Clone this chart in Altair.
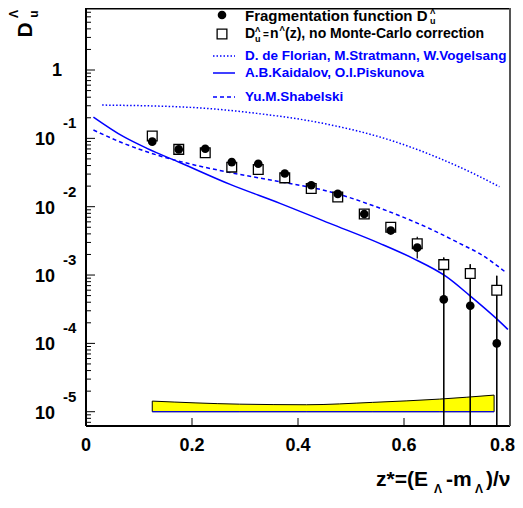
import altair as alt
import pandas as pd

# ---------------- data ----------------
z_pts = [0.125, 0.175, 0.225, 0.275, 0.325, 0.375, 0.425, 0.475, 0.525, 0.575, 0.625, 0.675, 0.725, 0.775]
ff = [0.0894, 0.0689, 0.0705, 0.0449, 0.0425, 0.0306, 0.0206, 0.0154, 0.00781, 0.00448, 0.00252, 4.4e-4, 3.55e-4, 1.0e-4]
ff_lo = [0.081, 0.064, 0.065, 0.041, 0.038, 0.028, 0.019, 0.0141, 0.0071, 0.0039, 0.00175, 1e-7, 1e-7, 1e-7]
ff_hi = [0.097, 0.074, 0.076, 0.049, 0.047, 0.034, 0.0225, 0.0168, 0.0086, 0.0052, 0.00363, 1.8e-3, 1.44e-3, 9.8e-4]
nz = [0.108, 0.069, 0.0616, 0.0379, 0.035, 0.0264, 0.0184, 0.0139, 0.0078, 0.0050, 0.00286, 0.00142, 0.00105, 6.0e-4]
nz_lo = [0.100, 0.064, 0.057, 0.035, 0.032, 0.0245, 0.0171, 0.0129, 0.0072, 0.0046, 0.0024, 1e-7, 1e-7, 1e-7]
nz_hi = [0.117, 0.074, 0.066, 0.041, 0.038, 0.0284, 0.0197, 0.0149, 0.0084, 0.0055, 0.0034, 1.8e-3, 1.44e-3, 9.8e-4]

dfsv_z = [0.0305, 0.197, 0.322, 0.447, 0.573, 0.667, 0.73, 0.78]
dfsv_y = [0.307, 0.284, 0.232, 0.166, 0.0946, 0.051, 0.0308, 0.0196]

kp_z = [0.014, 0.071, 0.115, 0.178, 0.272, 0.366, 0.46, 0.554, 0.616, 0.68, 0.723, 0.774, 0.796]
kp_y = [0.205, 0.1057, 0.0714, 0.0440, 0.0212, 0.0112, 0.0057, 0.00291, 0.00177, 9.46e-4, 5.09e-4, 2.32e-4, 1.60e-4]

sh_z = [0.014, 0.071, 0.134, 0.197, 0.272, 0.366, 0.46, 0.554, 0.648, 0.711, 0.742, 0.792]
sh_y = [0.1324, 0.0845, 0.0570, 0.0421, 0.0316, 0.0232, 0.01656, 0.00955, 0.00479, 0.00275, 0.002075, 0.001096]

band_z = [0.125, 0.29, 0.416, 0.541, 0.667, 0.770]
band_top = [1.43e-5, 1.29e-5, 1.265e-5, 1.37e-5, 1.53e-5, 1.75e-5]
band_bottom = [1e-5, 1e-5, 1e-5, 1e-5, 1e-5, 1e-5]

x_ticks = [0.2, 0.4, 0.6]
x_labels = [0, 0.2, 0.4, 0.6]
x_last_label = [0.8]
y_major = [1e-5, 1e-4, 1e-3, 1e-2, 1e-1, 1.0]
y_exp = ["-5", "-4", "-3", "-2", "-1"]

# ---------------- layout ----------------
W, H = 424, 418
YLO, YHI = 6.18e-6, 8.08
FONT = "Liberation Sans"
BLUE = "#0000ff"

xs = alt.Scale(domain=[0, 0.8], nice=False, zero=False)
ys = alt.Scale(type="log", domain=[YLO, YHI], nice=False)
X = lambda f: alt.X(f, type="quantitative", scale=xs, axis=None)
Y = lambda f: alt.Y(f, type="quantitative", scale=ys, axis=None)

pts = pd.DataFrame({"z": z_pts, "ff": ff, "ff_lo": ff_lo, "ff_hi": ff_hi,
                    "nz": nz, "nz_lo": nz_lo, "nz_hi": nz_hi})
dfsv = pd.DataFrame({"z": dfsv_z, "y": dfsv_y})
kp = pd.DataFrame({"z": kp_z, "y": kp_y})
sh = pd.DataFrame({"z": sh_z, "y": sh_y})
band = pd.DataFrame({"z": band_z, "top": band_top, "bot": band_bottom})

minor = [k * 10.0 ** n for n in range(-6, 1) for k in range(2, 10) if YLO <= k * 10.0 ** n <= YHI]
ymaj_df = pd.DataFrame({"v": y_major})
ymin_df = pd.DataFrame({"v": minor})
ylab_df = pd.DataFrame({"v": y_major[:-1], "e": y_exp})
one = pd.DataFrame({"a": [0]})

layers = []

# band
layers.append(alt.Chart(band).mark_area(color="#ffff00", stroke="black", strokeWidth=1, interpolate="monotone").encode(
    x=X("z"), y=Y("top"), y2="bot"))
layers.append(alt.Chart(band).mark_line(color=BLUE, strokeWidth=1).encode(x=X("z"), y=Y("bot")))

# curves
layers.append(alt.Chart(dfsv).mark_line(color=BLUE, strokeWidth=1.5, strokeDash=[1.5, 2], interpolate="monotone", clip=True).encode(x=X("z"), y=Y("y")))
layers.append(alt.Chart(kp).mark_line(color=BLUE, strokeWidth=1.5, interpolate="monotone", clip=True).encode(x=X("z"), y=Y("y")))
layers.append(alt.Chart(sh).mark_line(color=BLUE, strokeWidth=1.5, strokeDash=[4, 3], interpolate="monotone", clip=True).encode(x=X("z"), y=Y("y")))

# error bars
layers.append(alt.Chart(pts).mark_rule(color="black", strokeWidth=1.2, clip=True).encode(x=X("z"), y=Y("nz_lo"), y2="nz_hi"))
layers.append(alt.Chart(pts).mark_rule(color="black", strokeWidth=1.2, clip=True).encode(x=X("z"), y=Y("ff_lo"), y2="ff_hi"))

# markers
layers.append(alt.Chart(pts).mark_point(shape="square", filled=False, fill="white", stroke="black", strokeWidth=1.3, size=95, opacity=1).encode(x=X("z"), y=Y("nz")))
layers.append(alt.Chart(pts).mark_point(shape="circle", filled=True, color="black", size=75, opacity=1).encode(x=X("z"), y=Y("ff")))

# frame
layers.append(alt.Chart(one).mark_rule(color="black", strokeWidth=2).encode(x=alt.value(0), y=alt.value(0), y2=alt.value(H)))
layers.append(alt.Chart(one).mark_rule(color="black", strokeWidth=2).encode(x=alt.value(0), x2=alt.value(W), y=alt.value(H)))
layers.append(alt.Chart(one).mark_rule(color="black", strokeWidth=1.5).encode(x=alt.value(0), x2=alt.value(W), y=alt.value(0.75)))
layers.append(alt.Chart(one).mark_rule(color="#555555", strokeWidth=2).encode(x=alt.value(W), y=alt.value(0), y2=alt.value(H)))

# y ticks (inward)
layers.append(alt.Chart(ymaj_df).mark_rule(color="black", strokeWidth=1).encode(x=alt.value(0), x2=alt.value(9), y=Y("v")))
layers.append(alt.Chart(ymin_df).mark_rule(color="black", strokeWidth=1).encode(x=alt.value(0), x2=alt.value(5), y=Y("v")))
# x ticks (inward)
layers.append(alt.Chart(pd.DataFrame({"v": x_ticks})).mark_rule(color="black", strokeWidth=1).encode(x=X("v"), y=alt.value(H), y2=alt.value(H - 8)))

# x tick labels
layers.append(alt.Chart(pd.DataFrame({"v": x_labels})).mark_text(font=FONT, fontSize=18, fontWeight="bold", align="center", baseline="middle").encode(
    x=X("v"), y=alt.value(438), text=alt.Text("v:Q", format="~g")))
layers.append(alt.Chart(pd.DataFrame({"v": x_last_label})).mark_text(font=FONT, fontSize=18, fontWeight="bold", align="right", baseline="middle", dx=5).encode(
    x=X("v"), y=alt.value(438), text=alt.Text("v:Q", format="~g")))

# y tick labels
layers.append(alt.Chart(ylab_df).mark_text(font=FONT, fontSize=18, fontWeight="bold", align="center", baseline="middle", dy=2).encode(
    x=alt.value(-41), y=Y("v"), text=alt.value("10")))
layers.append(alt.Chart(ylab_df).mark_text(font=FONT, fontSize=15, fontWeight="bold", align="left", baseline="middle", dy=-15).encode(
    x=alt.value(-23), y=Y("v"), text="e:N"))
layers.append(alt.Chart(pd.DataFrame({"v": [1.0]})).mark_text(font=FONT, fontSize=18, fontWeight="bold", align="center", baseline="middle", dy=1).encode(
    x=alt.value(-29), y=Y("v"), text=alt.value("1")))

def txt(s, x, y, size, color="black", align="left", angle=0):
    m = dict(font=FONT, fontSize=size, fontWeight="bold", align=align, baseline="middle", color=color)
    if angle:
        m["angle"] = angle
    return alt.Chart(one).mark_text(**m).encode(x=alt.value(x), y=alt.value(y), text=alt.value(s))

# y title  D_u^Λ (rotated)
layers.append(txt("D", -60, 22, 21, align="center", angle=270))
layers.append(txt("Λ", -72, 6, 12, align="center", angle=270))
layers.append(txt("u", -52, 6, 12, align="center", angle=270))

# x title  z*=(E_Λ-m_Λ)/ν
layers.append(txt("z*=(E", 290, 472, 21))
layers.append(txt("Λ", 348, 481, 12))
layers.append(txt("-m", 360, 472, 21))
layers.append(txt("Λ", 389, 481, 12))
layers.append(txt(")/ν", 400, 472, 21))

# legend
layers.append(alt.Chart(one).mark_point(shape="circle", filled=True, color="black", size=75, opacity=1).encode(x=alt.value(136), y=alt.value(7)))
layers.append(txt("Fragmentation function D", 159, 8, 15))
layers.append(txt("Λ", 344, 4, 8))
layers.append(txt("u", 344, 13, 9))

layers.append(alt.Chart(one).mark_point(shape="square", filled=False, fill="white", stroke="black", strokeWidth=1.3, size=95, opacity=1).encode(x=alt.value(136), y=alt.value(26)))
layers.append(txt("D", 159, 26, 14))
layers.append(txt("Λ", 169, 21.5, 8))
layers.append(txt("u", 169, 30.5, 9))
layers.append(txt("=", 177, 27, 10))
layers.append(txt("n", 184, 26, 14))
layers.append(txt("Λ", 193.5, 21, 8))
layers.append(txt("(z), no Monte-Carlo correction", 199, 26, 14))

layers.append(alt.Chart(one).mark_rule(color=BLUE, strokeWidth=1.5, strokeDash=[1.5, 2]).encode(x=alt.value(127), x2=alt.value(149), y=alt.value(48)))
layers.append(txt("D. de Florian, M.Stratmann, W.Vogelsang", 159, 48, 13.5, color=BLUE))
layers.append(alt.Chart(one).mark_rule(color=BLUE, strokeWidth=1.5).encode(x=alt.value(127), x2=alt.value(149), y=alt.value(65)))
layers.append(txt("A.B.Kaidalov, O.I.Piskunova", 159, 65, 13.5, color=BLUE))
layers.append(alt.Chart(one).mark_rule(color=BLUE, strokeWidth=1.5, strokeDash=[4, 3]).encode(x=alt.value(127), x2=alt.value(149), y=alt.value(89)))
layers.append(txt("Yu.M.Shabelski", 159, 89, 13.5, color=BLUE))

chart = alt.layer(*layers).properties(
    width=W, height=H,
    autosize=alt.AutoSizeParams(type="none"),
    padding={"left": 78, "top": 0, "right": 5, "bottom": 70},
).configure(background="white", view=alt.ViewConfig(stroke=None))

chart.save("out.html", embed_options={"renderer": "svg", "actions": False})
